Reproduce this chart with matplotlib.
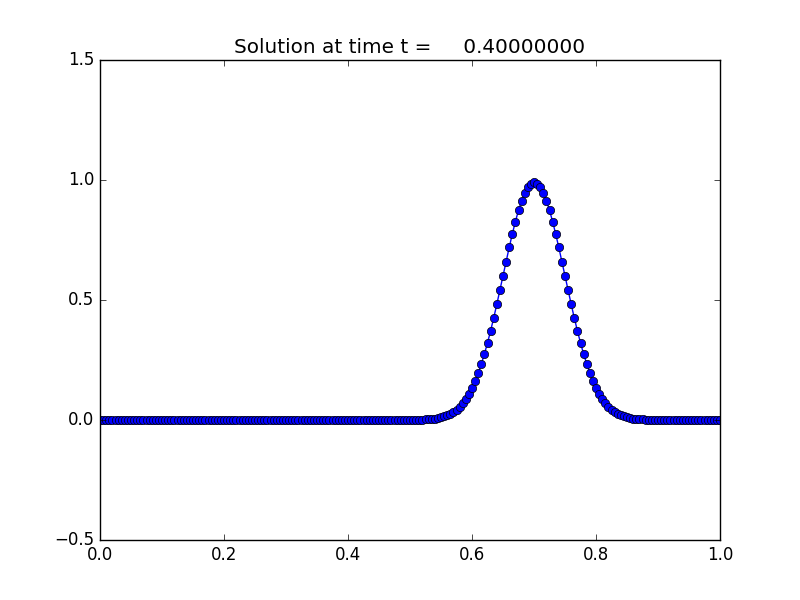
import numpy as np
import matplotlib
matplotlib.use("Agg")
from matplotlib import pyplot as plt

plt.style.use("classic")

# grid on [0, 1], 200 intervals
x = np.linspace(0.0, 1.0, 201)

# pulse (x = 0.525 ... 0.875), zero elsewhere
pulse = [0.0022, 0.0031, 0.0043, 0.0059, 0.0081, 0.0110, 0.0148, 0.0196,
         0.0259, 0.0337, 0.0435, 0.0556, 0.0703, 0.0880, 0.1092, 0.1340,
         0.1628, 0.1959, 0.2334, 0.2752, 0.3214, 0.3716, 0.4253, 0.4819,
         0.5406, 0.6004, 0.6603, 0.7189, 0.7749, 0.8270, 0.8737, 0.9139,
         0.9464, 0.9704, 0.9851, 0.9900, 0.9851, 0.9704, 0.9464, 0.9139,
         0.8737, 0.8270, 0.7749, 0.7189, 0.6603, 0.6004, 0.5406, 0.4819,
         0.4253, 0.3716, 0.3214, 0.2752, 0.2334, 0.1959, 0.1628, 0.1340,
         0.1092, 0.0880, 0.0703, 0.0556, 0.0435, 0.0337, 0.0259, 0.0196,
         0.0148, 0.0110, 0.0081, 0.0059, 0.0043, 0.0031, 0.0022]
zeros_left = [0.0] * 105
zeros_right = [0.0] * 25
u = zeros_left + pulse + zeros_right

t = 0.4

fig = plt.figure(figsize=(8, 6))
plt.plot(x, u, 'bo-')
plt.xlim(0.0, 1.0)
plt.ylim(-0.5, 1.5)
plt.xticks([0.0, 0.2, 0.4, 0.6, 0.8, 1.0])
plt.yticks([-0.5, 0.0, 0.5, 1.0, 1.5])
plt.title('Solution at time t = %14.8f' % t)
plt.savefig('out.png', dpi=100)
